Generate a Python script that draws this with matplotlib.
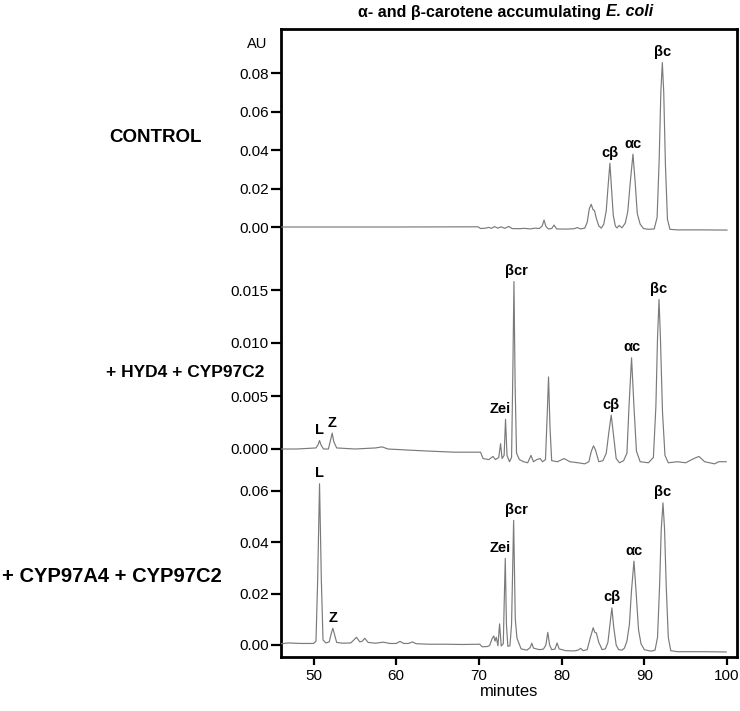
import matplotlib
matplotlib.use('Agg')
import matplotlib.pyplot as plt

plt.rcParams['font.family'] = ['Liberation Sans', 'DejaVu Sans']

# ---- data (minutes, AU) ----
t_control = [46.1, 60.0, 69.9, 70.2, 70.8, 71.2, 71.5, 71.9, 72.3, 72.7, 73.1, 73.6, 74.0,
             74.8, 75.5, 76.2, 76.8, 77.3, 77.65, 77.88, 78.1, 78.4, 78.8, 79.09, 79.4,
             80.5, 81.5, 81.9, 82.3, 82.8, 83.1, 83.35, 83.58, 83.8, 83.98, 84.2, 84.5,
             84.8, 85.1, 85.4, 85.6, 85.84, 86.05, 86.25, 86.5, 86.7, 86.95, 87.3, 87.7,
             88.0, 88.3, 88.63, 88.9, 89.15, 89.5, 89.9, 90.5, 91.2, 91.55, 91.8, 92.0,
             92.18, 92.35, 92.55, 92.8, 93.1, 94.0, 97.0, 100.0]
au_control = [0.0, 0.0, 0.0001, -0.0008, -0.0006, -0.0002, -0.0007, 0.0002, -0.0006, 0.0001,
              -0.0007, 0.0003, -0.0008, -0.0009, -0.0007, -0.0010, -0.0006, -0.0008, 0.0005,
              0.0036, 0.0003, -0.0010, -0.0008, 0.0010, -0.0010, -0.0011, -0.0009, -0.0003,
              -0.0010, -0.0006, 0.0025, 0.0095, 0.0118, 0.0090, 0.0085, 0.0045, 0.0005,
              -0.0006, 0.0015, 0.0085, 0.0200, 0.0331, 0.0190, 0.0060, 0.0005, -0.0005,
              0.0008, -0.0004, 0.0020, 0.0080, 0.0230, 0.0378, 0.0230, 0.0070, 0.0015,
              -0.0008, -0.0012, -0.0010, 0.0050, 0.0350, 0.0700, 0.0854, 0.0700, 0.0330,
              0.0040, -0.0012, -0.0015, -0.0015, -0.0016]

t_hyd4 = [46.1, 48.0, 50.3, 50.55, 50.73, 50.9, 51.2, 51.8, 52.05, 52.26, 52.45, 52.8, 55.0,
          57.5, 58.3, 59.0, 61.4, 64.0, 67.0, 70.2, 70.5, 71.2, 71.7, 72.0, 72.4, 72.62,
          72.8, 73.05, 73.22, 73.4, 73.7, 73.95, 74.1, 74.24, 74.38, 74.55, 74.9, 75.4,
          75.9, 76.3, 76.6, 77.0, 77.4, 77.7, 78.05, 78.25, 78.42, 78.6, 78.8, 79.5, 80.3,
          81.0, 82.0, 82.8, 83.3, 83.6, 83.86, 84.1, 84.5, 85.0, 85.4, 85.75, 86.0, 86.25,
          86.6, 87.0, 87.5, 87.9, 88.15, 88.46, 88.75, 89.05, 89.5, 90.5, 91.1, 91.4, 91.6,
          91.78, 91.95, 92.2, 92.5, 92.9, 94.0, 95.0, 96.0, 96.6, 97.3, 98.5, 99.0, 99.9]
au_hyd4 = [0.0, 0.0, 0.0001, 0.0004, 0.0008, 0.0004, 0.0, 0.0, 0.0008, 0.0015, 0.0007, 0.0001,
           0.0, 0.0001, 0.0002, 0.0, -0.0001, -0.0002, -0.0003, -0.0003, -0.0009, -0.0010,
           -0.0007, -0.0010, -0.0008, 0.0005, -0.0009, -0.0006, 0.0028, -0.0006, -0.0012,
           -0.0008, 0.0070, 0.0158, 0.0060, -0.0004, -0.0010, -0.0012, -0.0013, -0.0006,
           -0.0012, -0.0010, -0.0009, -0.0012, -0.0010, 0.0030, 0.0068, 0.0020, -0.0011,
           -0.0012, -0.0009, -0.0012, -0.0013, -0.0014, -0.0012, -0.0002, 0.0003, -0.0001,
           -0.0012, -0.0011, -0.0004, 0.0018, 0.0032, 0.0015, -0.0009, -0.0013, -0.0011,
           -0.0004, 0.0040, 0.0086, 0.0040, -0.0002, -0.0012, -0.0013, -0.0008, 0.0040,
           0.0105, 0.0141, 0.0105, 0.0035, -0.0006, -0.0013, -0.0012, -0.0013, -0.0009,
           -0.0007, -0.0012, -0.0014, -0.0012, -0.0012]

t_a4 = [46.1, 47.0, 48.5, 50.0, 50.3, 50.5, 50.73, 50.95, 51.15, 51.5, 51.9, 52.15, 52.34,
        52.55, 52.8, 53.5, 54.5, 54.9, 55.2, 55.6, 55.9, 56.2, 56.6, 57.5, 58.45, 59.2,
        60.0, 60.46, 60.9, 61.5, 61.96, 62.4, 64.0, 66.0, 68.0, 70.1, 70.4, 71.0, 71.3,
        71.6, 71.8, 71.95, 72.1, 72.3, 72.5, 72.7, 72.95, 73.05, 73.19, 73.33, 73.5, 73.75,
        73.95, 74.2, 74.4, 74.6, 74.8, 75.1, 75.8, 76.2, 76.4, 76.6, 77.3, 77.8, 78.1,
        78.33, 78.55, 78.8, 79.2, 79.45, 79.7, 80.5, 81.5, 82.0, 82.3, 82.6, 83.1, 83.4,
        83.82, 84.0, 84.2, 84.5, 84.9, 85.3, 85.6, 85.85, 86.08, 86.3, 86.6, 86.9, 87.3,
        87.6, 87.9, 88.2, 88.45, 88.75, 89.0, 89.3, 89.6, 90.0, 90.8, 91.3, 91.6, 91.85,
        92.05, 92.26, 92.45, 92.65, 92.9, 93.2, 94.0, 97.0, 99.9]
au_a4 = [0.0005, 0.0008, 0.0006, 0.0006, 0.0015, 0.0250, 0.0626, 0.0250, 0.0020, 0.0008,
         0.0012, 0.0045, 0.0065, 0.0040, 0.0010, 0.0007, 0.0008, 0.0020, 0.0030, 0.0012,
         0.0015, 0.0026, 0.0010, 0.0007, 0.0011, 0.0006, 0.0006, 0.0014, 0.0006, 0.0006,
         0.0012, 0.0005, 0.0003, 0.0003, 0.0002, 0.0003, -0.0007, -0.0006, -0.0002, 0.0025,
         0.0035, 0.0015, 0.0030, -0.0003, 0.0082, -0.0004, 0.0005, 0.0150, 0.0336, 0.0080,
         -0.0005, -0.0003, 0.0080, 0.0484, 0.0100, 0.0027, 0.0010, -0.0015, -0.0020,
         -0.0010, 0.0007, -0.0012, -0.0018, -0.0016, 0.0, 0.0049, 0.0, -0.0018, -0.0016,
         0.0008, -0.0015, -0.0022, -0.0023, -0.0020, -0.0013, -0.0022, -0.0018, 0.0020,
         0.0067, 0.0050, 0.0047, 0.0010, -0.0018, -0.0015, 0.0010, 0.0080, 0.0144, 0.0070,
         0.0, -0.0018, -0.0020, -0.0012, 0.0015, 0.0080, 0.0210, 0.0326, 0.0210, 0.0060,
         0.0005, -0.0018, -0.0024, -0.0020, 0.0030, 0.0230, 0.0450, 0.0552, 0.0450, 0.0230,
         0.0030, -0.0022, -0.0026, -0.0026, -0.0027]

# peak labels
lab_control = ['cβ', 'αc', 'βc']
pk_t_control = [85.84, 88.63, 92.18]
pk_h_control = [0.0331, 0.0378, 0.0854]

lab_hyd4 = ['L', 'Z', 'Zei', 'βcr', 'cβ', 'αc', 'βc']
pk_t_hyd4 = [50.73, 52.26, 73.22, 74.24, 86.0, 88.46, 91.78]
pk_h_hyd4 = [0.0008, 0.0015, 0.0028, 0.0158, 0.0032, 0.0086, 0.0141]

lab_a4 = ['L', 'Z', 'Zei', 'βcr', 'cβ', 'αc', 'βc']
pk_t_a4 = [50.73, 52.34, 73.19, 74.2, 86.08, 88.75, 92.26]
pk_h_a4 = [0.0626, 0.0065, 0.0336, 0.0484, 0.0144, 0.0326, 0.0552]

yt_control = [0.0, 0.02, 0.04, 0.06, 0.08]
yt_hyd4 = [0.0, 0.005, 0.010, 0.015]
yt_a4 = [0.0, 0.02, 0.04, 0.06]
xt = [50, 60, 70, 80, 90, 100]

# ---- layout (pixels of a 740x711 figure) ----
W, H = 740, 711
box_l, box_r, box_t, box_b = 281, 737, 29, 657
rect = [box_l / W, 1 - box_b / H, (box_r - box_l) / W, (box_b - box_t) / H]

def lims(zero_px, au_per_px):
    return (-(box_b - zero_px) * au_per_px, (zero_px - box_t) * au_per_px)

fig = plt.figure(figsize=(7.4, 7.11), dpi=100)
frame = fig.add_axes(rect)
frame.set_xlim(46.07, 101.21)
frame.set_ylim(0, 1)
frame.set_yticks([])
frame.set_xticks(xt)
for sp in frame.spines.values():
    sp.set_linewidth(2.0)
frame.tick_params(axis='x', length=5.5, width=1.6, labelsize=11, pad=3)
frame.set_xlabel('minutes', fontsize=12, labelpad=1)

line_col = '#7a7a7a'
offsets = {'Zei': -4, 'βcr': 2}

panels = [
    (t_control, au_control, lab_control, pk_t_control, pk_h_control, yt_control, '%.2f', lims(227, 0.02 / 38.5)),
    (t_hyd4, au_hyd4, lab_hyd4, pk_t_hyd4, pk_h_hyd4, yt_hyd4, '%.3f', lims(449, 0.005 / 53.0)),
    (t_a4, au_a4, lab_a4, pk_t_a4, pk_h_a4, yt_a4, '%.2f', lims(645, 0.02 / 51.5)),
]

for t, au, labs, pt, ph, yt, fmt, yl in panels:
    ax = fig.add_axes(rect, sharex=frame)
    ax.patch.set_visible(False)
    for sp in ax.spines.values():
        sp.set_visible(False)
    ax.plot(t, au, color=line_col, lw=0.85)
    ax.set_ylim(*yl)
    ax.set_yticks(yt)
    ax.set_yticklabels([fmt % v for v in yt])
    ax.tick_params(axis='y', length=7, width=1.6, labelsize=11, pad=2)
    ax.tick_params(axis='x', bottom=False, labelbottom=False)
    for name, x, h in zip(labs, pt, ph):
        ax.annotate(name, xy=(x, h), xytext=(offsets.get(name, 0), 2.5),
                    textcoords='offset points', ha='center', va='bottom',
                    fontsize=10.5, fontweight='bold')

fig.text(257 / W, 1 - 44 / H, 'AU', ha='center', va='center', fontsize=10.5)
fig.text(156 / W, 1 - 137 / H, 'CONTROL', ha='center', va='center', fontsize=13.5, fontweight='bold')
fig.text(185 / W, 1 - 372 / H, '+ HYD4 + CYP97C2', ha='center', va='center', fontsize=12.5, fontweight='bold')
fig.text(112 / W, 1 - 577 / H, '+ CYP97A4 + CYP97C2', ha='center', va='center', fontsize=14.5, fontweight='bold')

fig.text(606 / W, 1 - 12 / H, 'α- and β-carotene accumulating ', ha='right', va='center',
         fontsize=11.5, fontweight='bold')
fig.text(606 / W, 1 - 12 / H, 'E. coli', ha='left', va='center',
         fontsize=11.5, fontweight='bold', style='italic')

fig.savefig('out.png', dpi=100)
